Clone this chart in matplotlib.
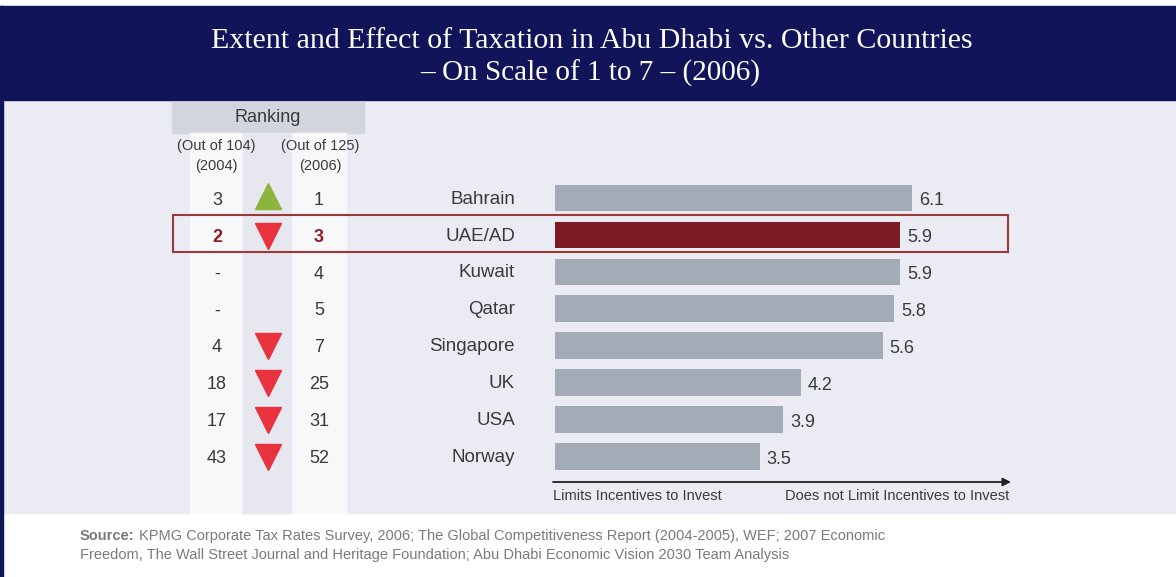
import matplotlib.pyplot as plt
import matplotlib.transforms as mtransforms
from matplotlib.patches import Rectangle

# data
countries = ["Bahrain", "UAE/AD", "Kuwait", "Qatar", "Singapore", "UK", "USA", "Norway"]
scores = [6.1, 5.9, 5.9, 5.8, 5.6, 4.2, 3.9, 3.5]
rank_2004 = ["3", "2", "-", "-", "4", "18", "17", "43"]
rank_2006 = ["1", "3", "4", "5", "7", "25", "31", "52"]
trend = ["up", "down", "", "", "down", "down", "down", "down"]
highlight = "UAE/AD"

W, H = 1176, 577
NAVY = "#12145a"
PANEL = "#ebebf4"
GREY_BAR = "#a3acb6"
RED_BAR = "#7b1a22"
TXT = "#3a3a3a"
SANS = "Liberation Sans"
SERIF = "Liberation Serif"

fig = plt.figure(figsize=(W / 100, H / 100), dpi=100)
fig.patch.set_facecolor("white")

# pixel overlay for background pieces
bg = fig.add_axes([0, 0, 1, 1])
bg.set_xlim(0, W)
bg.set_ylim(H, 0)
bg.axis("off")

bg.add_patch(Rectangle((0, 100), W, 413, color=PANEL, zorder=0))
bg.add_patch(Rectangle((0, 6), W, 94, color=NAVY, zorder=1))
bg.add_patch(Rectangle((0, 6), 2.5, H, color=NAVY, zorder=1))
# ranking columns
bg.add_patch(Rectangle((172, 102), 192, 31, color="#d2d5de", zorder=1))
bg.add_patch(Rectangle((190, 133), 53, 380, color="#f8f8fb", zorder=1))
bg.add_patch(Rectangle((243, 133), 49, 380, color="#e6e7ef", zorder=1))
bg.add_patch(Rectangle((292, 133), 54, 380, color="#f8f8fb", zorder=1))

bg.text(592, 41, "Extent and Effect of Taxation in Abu Dhabi vs. Other Countries",
        color="white", fontsize=21.5, family=SERIF, ha="center", va="center")
bg.text(590, 73, "\u2013 On Scale of 1 to 7 \u2013 (2006)",
        color="white", fontsize=21, family=SERIF, ha="center", va="center")

bg.text(268, 117, "Ranking", fontsize=13, family=SANS, color=TXT, ha="center", va="center")
for x, top_s, bot_s in [(216, "(Out of 104)", "(2004)"), (320, "(Out of 125)", "(2006)")]:
    bg.text(x, 146, top_s, fontsize=10.5, family=SANS, color=TXT, ha="center", va="center")
    bg.text(x, 166, bot_s, fontsize=10.5, family=SANS, color=TXT, ha="center", va="center")

# axis arrow + labels
bg.annotate("", xy=(1011, 482), xytext=(553, 482),
            arrowprops=dict(arrowstyle="-|>", color="#222222", lw=1.3,
                            mutation_scale=12, shrinkA=0, shrinkB=0), zorder=3)
bg.text(553, 496, "Limits Incentives to Invest", fontsize=10.5, family=SANS,
        color=TXT, ha="left", va="center")
bg.text(1009, 496, "Does not Limit Incentives to Invest", fontsize=10.5, family=SANS,
        color=TXT, ha="right", va="center")

# source
src_kw = dict(fontsize=10.5, family=SANS, color="#7a7a7a", ha="left", va="center")
bg.text(80, 536, "Source:", weight="bold", **src_kw)
bg.text(139, 536, "KPMG Corporate Tax Rates Survey, 2006; The Global Competitiveness Report "
        "(2004-2005), WEF; 2007 Economic", **src_kw)
bg.text(80, 555, "Freedom, The Wall Street Journal and Heritage Foundation; Abu Dhabi Economic "
        "Vision 2030 Team Analysis", **src_kw)

# bar axes: x 0..7, rows centred on the table lines
px_unit = 58.5
row_h = 36.9
top = 198 - row_h / 2
n = len(countries)
left = 555
ax = fig.add_axes([left / W, 1 - (top + n * row_h) / H, 7 * px_unit / W, n * row_h / H])
ax.set_xlim(0, 7)
ax.set_ylim(n - 0.5, -0.5)
ax.axis("off")
ax.patch.set_alpha(0)

ys = list(range(n))
colors = [RED_BAR if c == highlight else GREY_BAR for c in countries]
ax.barh(ys, scores, height=0.72, color=colors, zorder=2)

blend = mtransforms.blended_transform_factory(bg.transData, ax.transData)
for i, (c, s, r4, r6, t) in enumerate(zip(countries, scores, rank_2004, rank_2006, trend)):
    hl = c == highlight
    ax.text(s + 0.12, i + 0.08, f"{s:.1f}", fontsize=13, family=SANS, color=TXT,
            ha="left", va="center")
    ax.text(515, i + 0.03, c, transform=blend, fontsize=13.5, family=SANS, color=TXT,
            ha="right", va="center")
    numc = "#8b1e24" if hl else TXT
    wt = "bold" if hl else "normal"
    ax.text(217, i + 0.06, r4, transform=blend, fontsize=13, family=SANS, color=numc,
            weight=wt, ha="center", va="center")
    ax.text(319, i + 0.06, r6, transform=blend, fontsize=13, family=SANS, color=numc,
            weight=wt, ha="center", va="center")
    if t == "up":
        ax.plot([268], [i - 0.05], marker="^", markersize=19, color="#8db53c",
                transform=blend, clip_on=False)
    elif t == "down":
        ax.plot([268], [i + 0.02], marker="v", markersize=19, color="#e8323d",
                transform=blend, clip_on=False)

# highlight box around UAE row
bg.add_patch(Rectangle((173, 215), 835, 37, fill=False, edgecolor="#9a3a3a", lw=1.5, zorder=4))

fig.savefig("out.png", dpi=100, facecolor="white")
